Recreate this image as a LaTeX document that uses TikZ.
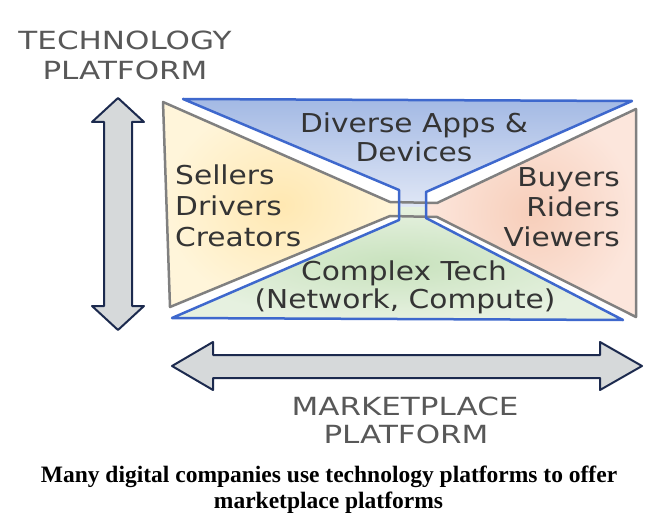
\documentclass[tikz,border=0pt]{standalone}
\usepackage{fontspec}
\newfontfamily\handfont[FakeStretch=1.14]{DejaVu Sans}
\newfontfamily\titlefont[FakeStretch=1.24]{DejaVu Sans}
\newfontfamily\capfont{Liberation Serif}
\definecolor{blueTop}{RGB}{163,185,228}
\definecolor{blueMid}{RGB}{178,197,233}
\definecolor{blueBot}{RGB}{224,231,246}
\definecolor{greenIn}{RGB}{200,226,189}
\definecolor{greenOut}{RGB}{230,241,224}
\definecolor{yellowIn}{RGB}{255,232,178}
\definecolor{yellowOut}{RGB}{255,245,218}
\definecolor{pinkIn}{RGB}{247,206,186}
\definecolor{pinkOut}{RGB}{252,230,220}
\definecolor{blueLine}{RGB}{62,104,205}
\definecolor{grayLine}{RGB}{128,128,128}
\definecolor{arrowLine}{RGB}{28,42,78}
\definecolor{arrowFill}{RGB}{214,217,218}
\definecolor{textGray}{RGB}{52,52,52}
\definecolor{titleGray}{RGB}{88,88,88}
\tikzset{
  handtext/.style={font=\handfont\fontsize{26}{30}\selectfont, text=textGray, inner sep=0pt},
  titletext/.style={font=\titlefont\fontsize{25}{30}\selectfont, text=titleGray, inner sep=0pt},
  captext/.style={font=\capfont\bfseries\fontsize{23.5}{26}\selectfont, text=black, inner sep=0pt},
  blueedge/.style={draw=blueLine, line width=2.5pt, line join=round},
  grayedge/.style={draw=grayLine, line width=2.5pt, line join=round},
  arrowshape/.style={draw=arrowLine, fill=arrowFill, line width=2pt, line join=round}
}
\begin{document}
\begin{tikzpicture}[x=1pt,y=-1pt]
\useasboundingbox (0,0) rectangle (660,526);
% fills
\shade[inner color=yellowIn, outer color=yellowOut] (163,102) -- (390,202) -- (399,202) -- (399,216) -- (390,216) -- (170,307) -- cycle;
\shade[inner color=pinkIn, outer color=pinkOut] (636,109) -- (437,203) -- (426,203) -- (426,217) -- (437,217) -- (636,317) -- cycle;
\shade[top color=blueTop, middle color=blueMid, bottom color=blueBot] (183,99) -- (632,101) -- (426,192) -- (426,207) -- (399,207) -- (399,190) -- cycle;
\shade[inner color=greenIn, outer color=greenOut] (399,207) -- (426,207) -- (426,218) -- (623,320) -- (172,318) -- (399,220) -- cycle;
% outlines
\draw[grayedge] (163,102) -- (390,202) -- (437,203) -- (636,109) -- (636,317) -- (437,217) -- (390,216) -- (170,307) -- cycle;
\draw[blueedge] (399,190) -- (183,99) -- (632,101) -- (426,192) -- (426,218) -- (623,320) -- (172,318) -- (399,220) -- cycle;
% arrows
\draw[arrowshape] (118,98) -- (144,122) -- (132,122) -- (132,306) -- (144,306) -- (118,330) -- (92,306) -- (104,306) -- (104,122) -- (92,122) -- cycle;
\draw[arrowshape] (172,366) -- (213,342) -- (213,355) -- (600,355) -- (600,342) -- (642,366) -- (600,390) -- (600,378) -- (213,378) -- (213,390) -- cycle;
% titles
\node[titletext, anchor=base] (tech1) at (125,50) {TECHNOLOGY};
\node[titletext, anchor=base] (tech2) at (125,80) {PLATFORM};
\node[titletext, anchor=base] (mkt1) at (405,415) {MARKETPLACE};
\node[titletext, anchor=base] (mkt2) at (406,443) {PLATFORM};
% inner texts
\node[handtext, anchor=base] (apps1) at (414,133) {Diverse Apps \&};
\node[handtext, anchor=base] (apps2) at (414,162) {Devices};
\node[handtext, anchor=base west] (sell1) at (175,185) {Sellers};
\node[handtext, anchor=base west] (sell2) at (175,216) {Drivers};
\node[handtext, anchor=base west] (sell3) at (175,247) {Creators};
\node[handtext, anchor=base east] (buy1) at (620,187) {Buyers};
\node[handtext, anchor=base east] (buy2) at (620,217) {Riders};
\node[handtext, anchor=base east] (buy3) at (620,247) {Viewers};
\node[handtext, anchor=base] (tech3) at (404,280) {Complex Tech};
\node[handtext, anchor=base] (tech4) at (405,308) {(Network, Compute)};
% caption
\node[captext, anchor=base] (cap1) at (329,482) {Many digital companies use technology platforms to offer};
\node[captext, anchor=base] (cap2) at (328.5,508) {marketplace platforms};
\end{tikzpicture}
\end{document}
